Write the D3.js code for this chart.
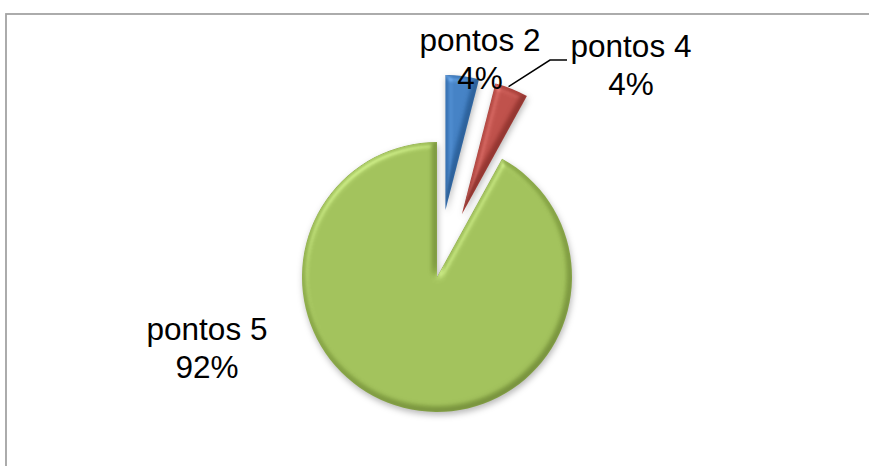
<!DOCTYPE html>
<html>
<head>
<meta charset="utf-8">
<script src="https://cdn.jsdelivr.net/npm/d3@7/dist/d3.min.js"></script>
<style>
  html, body { margin: 0; padding: 0; background: #fff; }
  #chart { width: 869px; height: 466px; overflow: hidden; }
</style>
</head>
<body>
<div id="chart"></div>
<script>
// data
var categories = ["pontos 2", "pontos 4", "pontos 5"];
var values = [4, 4, 92];
var percentLabels = ["4%", "4%", "92%"];
var exploded = [true, true, false];

var width = 869, height = 466;
var cx = 437, cy = 277, radius = 135;
var explode = 0.5 * radius;

// label anchors (first line baseline)
var labelPos = [[480, 51], [631, 57], [207, 340]];

var color = d3.scaleOrdinal()
  .domain(categories)
  .range([
    ["#66abf0", "#4f91d9", "#3673b6"],
    ["#f0766f", "#da5a53", "#b0423c"],
    ["#bfe176", "#abce61", "#93b34d"]
  ]);

var svg = d3.select("#chart")
  .append("svg")
  .attr("width", width)
  .attr("height", height);

svg.append("rect")
  .attr("x", 6)
  .attr("y", 14)
  .attr("width", 900)
  .attr("height", 500)
  .attr("fill", "#fff")
  .attr("stroke", "#a3a3a3")
  .attr("stroke-width", 1.8);

var defs = svg.append("defs");

// bevel + shadow
var f = defs.append("filter")
  .attr("id", "bevel")
  .attr("color-interpolation-filters", "sRGB")
  .attr("x", "-20%").attr("y", "-20%")
  .attr("width", "140%").attr("height", "140%");
f.append("feGaussianBlur").attr("in", "SourceAlpha").attr("stdDeviation", 3).attr("result", "blur");
var spec = f.append("feSpecularLighting")
  .attr("in", "blur")
  .attr("surfaceScale", 2.5)
  .attr("specularConstant", 0.6)
  .attr("specularExponent", 25)
  .attr("lighting-color", "#ffffff")
  .attr("result", "spec");
spec.append("feDistantLight").attr("azimuth", 235).attr("elevation", 55);
f.append("feComposite").attr("in", "spec").attr("in2", "SourceAlpha").attr("operator", "in").attr("result", "specIn");
f.append("feComposite").attr("in", "SourceGraphic").attr("in2", "specIn")
  .attr("operator", "arithmetic").attr("k1", 0).attr("k2", 1).attr("k3", 0.35).attr("k4", 0)
  .attr("result", "lit");
// dark rim on the lower side
f.append("feOffset").attr("in", "blur").attr("dx", -2).attr("dy", -3).attr("result", "boff");
f.append("feComposite").attr("in", "SourceAlpha").attr("in2", "boff").attr("operator", "out").attr("result", "rimMask");
f.append("feGaussianBlur").attr("in", "rimMask").attr("stdDeviation", 1.5).attr("result", "rimBlur");
f.append("feFlood").attr("flood-color", "#000").attr("flood-opacity", 0.28).attr("result", "rc");
f.append("feComposite").attr("in", "rc").attr("in2", "rimBlur").attr("operator", "in").attr("result", "rim0");
f.append("feComposite").attr("in", "rim0").attr("in2", "SourceAlpha").attr("operator", "in").attr("result", "rim");
f.append("feGaussianBlur").attr("in", "SourceAlpha").attr("stdDeviation", 3).attr("result", "sblur");
f.append("feOffset").attr("in", "sblur").attr("dx", 1).attr("dy", 3).attr("result", "soff");
f.append("feFlood").attr("flood-color", "#000").attr("flood-opacity", 0.28).attr("result", "sc");
f.append("feComposite").attr("in", "sc").attr("in2", "soff").attr("operator", "in").attr("result", "shadow");
var merge = f.append("feMerge");
merge.append("feMergeNode").attr("in", "shadow");
merge.append("feMergeNode").attr("in", "lit");
merge.append("feMergeNode").attr("in", "rim");

categories.forEach(function(c, i) {
  var cols = color(c);
  var g = defs.append("radialGradient")
    .attr("id", "grad" + i)
    .attr("gradientUnits", "userSpaceOnUse")
    .attr("cx", cx - 30).attr("cy", cy - 110)
    .attr("r", radius * 2.2);
  g.append("stop").attr("offset", "0%").attr("stop-color", cols[0]);
  g.append("stop").attr("offset", "55%").attr("stop-color", cols[1]);
  g.append("stop").attr("offset", "100%").attr("stop-color", cols[2]);
});

var pie = d3.pie().sort(null).value(function(d) { return d; });
var arcs = pie(values);
var arc = d3.arc().innerRadius(0).outerRadius(radius);

var gPie = svg.append("g").attr("transform", "translate(" + cx + "," + cy + ")");

gPie.selectAll("path.slice")
  .data(arcs)
  .enter()
  .append("path")
  .attr("class", "slice")
  .attr("transform", function(d, i) {
    if (!exploded[i]) return null;
    var a = (d.startAngle + d.endAngle) / 2;
    return "translate(" + (Math.sin(a) * explode) + "," + (-Math.cos(a) * explode) + ")";
  })
  .attr("d", arc)
  .attr("fill", function(d, i) { return "url(#grad" + i + ")"; })
  .attr("filter", "url(#bevel)");

// leader line for pontos 4
var a1 = (arcs[1].startAngle + arcs[1].endAngle) / 2;
var ox = Math.sin(a1) * explode, oy = -Math.cos(a1) * explode;
var tip = [cx + ox + Math.sin(a1) * radius, cy + oy - Math.cos(a1) * radius];
svg.append("path")
  .attr("d", d3.line()([[tip[0] - 3, tip[1] - 2], [550, 60], [567, 60]]))
  .attr("fill", "none")
  .attr("stroke", "#000")
  .attr("stroke-width", 1.5);

var labels = svg.selectAll("text.lbl")
  .data(categories)
  .enter()
  .append("text")
  .attr("class", "lbl")
  .attr("text-anchor", "middle")
  .attr("font-family", "Liberation Sans, Arial, sans-serif")
  .attr("font-size", 31.5)
  .attr("fill", "#000");

labels.append("tspan")
  .attr("x", function(d, i) { return labelPos[i][0]; })
  .attr("y", function(d, i) { return labelPos[i][1]; })
  .text(function(d) { return d; });
labels.append("tspan")
  .attr("x", function(d, i) { return labelPos[i][0]; })
  .attr("y", function(d, i) { return labelPos[i][1] + 38; })
  .text(function(d, i) { return percentLabels[i]; });
</script>
</body>
</html>
